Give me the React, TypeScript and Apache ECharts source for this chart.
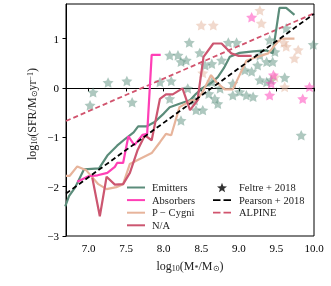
import React, { useEffect, useRef } from "react";
import * as echarts from "echarts";

// Lines (x = log10 M*, y = log10 SFR)
const emX = [6.69, 6.74, 6.82, 6.94, 7.14, 7.25, 7.38, 7.49, 7.6, 7.66, 7.77, 7.88, 8.0, 8.08, 8.21, 8.35, 8.43, 8.52, 8.63, 8.72, 8.8, 8.88, 9.01, 9.19, 9.37, 9.45, 9.54, 9.63, 9.74];
const emY = [-2.4, -2.19, -2.02, -1.65, -1.63, -1.37, -1.17, -1.03, -0.9, -0.78, -0.78, -0.69, -0.52, -0.39, -0.32, -0.25, -0.12, 0.0, 0.1, 0.22, 0.4, 0.63, 0.71, 0.74, 0.76, 0.7, 1.62, 1.62, 1.48];

const absX = [6.85, 7.0, 7.12, 7.25, 7.35, 7.38, 7.46, 7.53, 7.61, 7.72, 7.78, 7.84, 7.96];
const absY = [-1.9, -1.79, -1.77, -1.72, -1.6, -1.52, -1.52, -0.98, -1.16, -0.95, -0.93, 0.67, 0.67];

const pcX = [6.7, 6.75, 6.85, 6.97, 7.13, 7.24, 7.37, 7.46, 7.55, 7.68, 7.84, 7.95, 8.03, 8.1, 8.21, 8.37, 8.44, 8.52, 8.63, 8.7, 8.81, 8.92, 9.1, 9.19, 9.39, 9.52, 9.57, 9.74];
const pcY = [-1.78, -1.78, -1.59, -1.67, -1.95, -2.05, -2.01, -1.95, -1.54, -1.44, -1.32, -1.1, -0.93, -0.96, -0.39, -0.25, -0.25, -0.08, 0.26, 0.12, -0.03, -0.03, 0.55, 0.6, 0.7, 0.94, 1.0, 1.0];

const naX = [7.05, 7.15, 7.24, 7.35, 7.46, 7.55, 7.65, 7.75, 7.84, 7.95, 8.03, 8.12, 8.25, 8.35, 8.45, 8.53, 8.66, 8.77, 8.9, 8.99, 9.17];
const naY = [-1.82, -2.6, -1.8, -1.96, -1.95, -1.72, -1.27, -0.96, -1.06, -0.22, -0.13, -0.13, -0.01, -0.45, -0.25, 0.63, 0.9, 0.9, 0.7, 0.65, 0.65];

const pearsonX = [6.7, 10.0];
const pearsonY = [-2.14, 1.5];
const alpineX = [6.7, 10.0];
const alpineY = [-0.67, 1.51];

// Feltre + 2018 stars, by class
const gStarX = [7.06, 7.02, 7.26, 7.51, 7.58, 7.95, 8.1, 8.08, 8.19, 8.23, 8.3, 8.34, 8.23, 8.08, 8.32, 8.41, 8.43, 8.52, 8.48, 8.55, 8.64, 8.6, 8.68, 8.75, 8.77, 8.86, 8.97, 8.92, 8.92, 9.01, 9.1, 9.19, 9.08, 9.17, 9.25, 9.28, 9.37, 9.43, 9.45, 9.37, 9.41, 9.48, 9.61, 9.63, 9.28, 8.72, 8.64, 9.99, 9.83];
const gStarY = [-0.09, -0.35, 0.11, 0.14, -0.29, 0.12, 0.14, 0.66, 0.66, 0.53, 0.56, 0.92, -0.66, -0.22, -0.01, -0.25, -0.45, -0.45, 0.71, 0.46, 0.49, -0.12, -0.22, -0.01, 0.56, 0.92, 0.92, 0.09, -0.15, -0.08, -0.15, -0.18, 0.36, 0.33, 0.46, 0.16, 0.12, 0.16, 0.53, 0.53, 0.97, 0.73, 0.21, 1.21, 0.66, -0.32, 0.12, 0.88, -0.96];
const tStarX = [8.5, 8.66, 9.28, 9.3, 9.63, 9.79, 9.74, 9.61, 9.48, 9.6, 8.52];
const tStarY = [1.27, 1.27, 1.57, 1.31, 0.84, 0.77, 0.6, 0.02, 0.22, 0.92, 0.3];
const pStarX = [9.17, 9.41, 9.43, 9.46, 9.85, 9.94];
const pStarY = [1.43, -0.15, 0.09, 0.26, -0.22, 0.02];

const xTicks = [7.0, 7.5, 8.0, 8.5, 9.0, 9.5, 10.0];
const yTicks = [-3, -2, -1, 0, 1];

const STAR = "path://M0,-10L2.94,-4.05L9.51,-3.09L4.76,1.55L5.88,8.09L0,5L-5.88,8.09L-4.76,1.55L-9.51,-3.09L-2.94,-4.05Z";
const STAR_LEG = "path://M0,0M18,10M9,0.3L10.3,3.8L14,3.9L11.1,6.2L12.1,9.8L9,7.7L5.9,9.8L6.9,6.2L4,3.9L7.7,3.8Z";
const SOLID_LEG = "path://M0,0M18,10M0,4H18V6H0Z";
const DASH_LEG = "path://M0,0M18,10M0,4.1H7.5V5.9H0ZM10.5,4.1H18V5.9H10.5Z";
const FONT = "Liberation Serif";

const zip = (xs: number[], ys: number[]) => xs.map((x, i) => [x, ys[i]]);

export default function App() {
  const ref = useRef<HTMLDivElement>(null);
  useEffect(() => {
    document.body.style.margin = "0";
    const chart = echarts.init(ref.current!, null, { renderer: "svg" });
    const lineS = (name: string, xs: number[], ys: number[], color: string, width = 2.2, type: any = "solid", z = 3) => ({
      type: "line",
      name,
      data: zip(xs, ys),
      symbol: "none",
      lineStyle: { color, width, type },
      itemStyle: { color },
      z,
    });
    const starS = (name: string, xs: number[], ys: number[], color: string, opacity: number) => ({
      type: "scatter",
      name,
      data: zip(xs, ys),
      symbol: STAR,
      symbolSize: 11,
      symbolKeepAspect: true,
      itemStyle: { color, opacity },
      z: 1,
    });
    const legText = { fontFamily: FONT, fontSize: 10.5, color: "#222", lineHeight: 10, padding: [0, 0, 0, 2] };
    chart.setOption({
      animation: false,
      grid: { left: 66, right: 17, top: 4, bottom: 50, show: true, borderColor: "#000", borderWidth: 1 },
      xAxis: {
        type: "value",
        min: 6.7,
        max: 10.0,
        splitLine: { show: false },
        axisLine: { lineStyle: { color: "#000", width: 1 } },
        axisTick: { length: 3.5, lineStyle: { color: "#000" }, customValues: xTicks },
        axisLabel: { color: "#000", fontFamily: FONT, fontSize: 11, margin: 6, customValues: xTicks, formatter: (v: number) => v.toFixed(1) },
      },
      yAxis: {
        type: "value",
        min: -3,
        max: 1.7,
        splitLine: { show: false },
        axisLine: { lineStyle: { color: "#000", width: 1 } },
        axisTick: { length: 3.5, lineStyle: { color: "#000" }, customValues: yTicks },
        axisLabel: { color: "#000", fontFamily: FONT, fontSize: 11, margin: 7, customValues: yTicks, formatter: (v: number) => (v < 0 ? "\u2212" + Math.abs(v) : String(v)) },
      },
      legend: [
        {
          left: 127,
          top: 182,
          orient: "vertical",
          itemWidth: 18,
          itemHeight: 10,
          itemGap: 1.6,
          padding: 0,
          textStyle: legText,
          data: [
            { name: "Emitters", icon: SOLID_LEG },
            { name: "Absorbers", icon: SOLID_LEG },
            { name: "P \u2212 Cygni", icon: SOLID_LEG },
            { name: "N/A", icon: SOLID_LEG },
          ],
        },
        {
          left: 213,
          top: 182,
          orient: "vertical",
          itemWidth: 18,
          itemHeight: 10,
          itemGap: 1.6,
          padding: 0,
          textStyle: { ...legText, padding: [0, 0, 0, 3] },
          data: [
            { name: "Feltre + 2018", icon: STAR_LEG },
            { name: "Pearson + 2018", icon: DASH_LEG },
            { name: "ALPINE", icon: DASH_LEG },
          ],
        },
      ],
      series: [
        starS("gStars", gStarX, gStarY, "#5e927f", 0.5),
        starS("tStars", tStarX, tStarY, "#e3b39b", 0.5),
        starS("pStars", pStarX, pStarY, "#ff48bc", 0.55),
        { type: "scatter", name: "Feltre + 2018", data: [], symbol: STAR, itemStyle: { color: "#000" } },
        lineS("ALPINE", alpineX, alpineY, "#d1546e", 1.8, [5, 3], 2),
        lineS("Pearson + 2018", pearsonX, pearsonY, "#000", 1.8, [5, 3], 4),
        lineS("Emitters", emX, emY, "#5b8c7a"),
        lineS("P \u2212 Cygni", pcX, pcY, "#e7b49b"),
        lineS("N/A", naX, naY, "#cc5670"),
        lineS("Absorbers", absX, absY, "#ff3fb6"),
      ],
      graphic: [
        {
          type: "text",
          x: 190,
          y: 266,
          style: {
            text: "log{s|10}(M{s|*}/M{s|\u2299})",
            fontFamily: FONT,
            fontSize: 12,
            fill: "#222",
            align: "center",
            verticalAlign: "middle",
            rich: { s: { fontSize: 8, fontFamily: FONT, verticalAlign: "bottom", lineHeight: 8, fill: "#222" } },
          },
        },
        {
          type: "text",
          x: 32,
          y: 114,
          rotation: Math.PI / 2,
          style: {
            text: "log{s|10}(SFR/M{s|\u2299}yr{p|\u22121})",
            fontFamily: FONT,
            fontSize: 12,
            fill: "#222",
            align: "center",
            verticalAlign: "middle",
            rich: {
              s: { fontSize: 8, fontFamily: FONT, verticalAlign: "bottom", lineHeight: 8, fill: "#222" },
              p: { fontSize: 8, fontFamily: FONT, verticalAlign: "top", lineHeight: 8, fill: "#222" },
            },
          },
        },
      ],
    });
    return () => chart.dispose();
  }, []);
  return <div ref={ref} style={{ width: 331, height: 286, position: "fixed", left: 0, top: 0 }} />;
}
